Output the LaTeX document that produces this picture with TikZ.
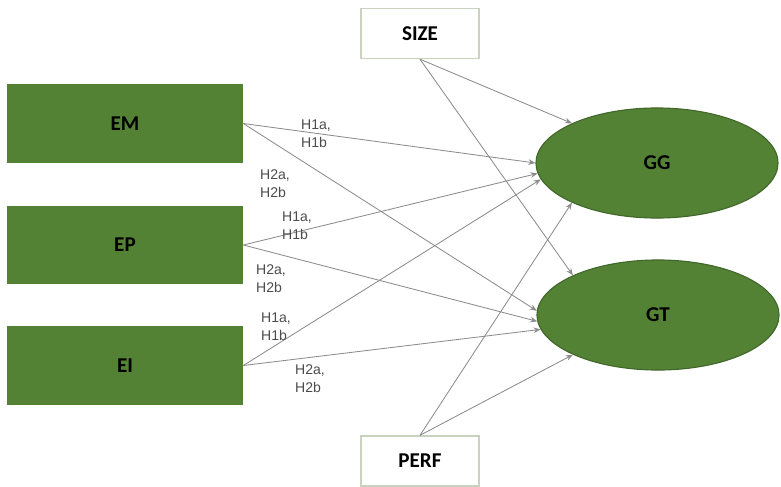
\documentclass[tikz,border=0pt]{standalone}
\usepackage{fontspec}
\setmainfont{Liberation Sans}
\newfontfamily\boxfont{Carlito}
\usetikzlibrary{arrows.meta,shapes.geometric}
\definecolor{leaf}{HTML}{548235}
\definecolor{leafdark}{HTML}{41672A}
\definecolor{frame}{HTML}{C8D2BE}
\definecolor{wire}{HTML}{8C8C8C}
\tikzstyle{edge} = [draw,wire,line width=0.6pt,-{Stealth[length=5pt,width=4pt]}]
\tikzstyle{weight} = [font=\fontsize{10}{12.8}\selectfont,text=black!70,align=left,inner sep=0pt]
\tikzstyle{block} = [rectangle,fill=leaf,minimum width=5.9cm,minimum height=1.95cm,inner sep=0pt,font=\boxfont\bfseries\fontsize{15}{18}\selectfont]
\tikzstyle{ctrl} = [rectangle,draw=frame,line width=1pt,fill=white,minimum width=2.95cm,minimum height=1.25cm,inner sep=0pt,font=\boxfont\bfseries\fontsize{15}{18}\selectfont]
\tikzstyle{outcome} = [ellipse,fill=leaf,draw=leafdark,line width=0.8pt,minimum width=6.05cm,minimum height=2.75cm,inner sep=0pt,font=\boxfont\bfseries\fontsize{15}{18}\selectfont]

\begin{document}
\begin{tikzpicture}[x=0.025cm,y=-0.025cm]
				\useasboundingbox (0,0) rectangle (781,486);
				
				\node[block] (EM) at (125,123.5) {EM};
				\node[block] (EP) at (125,245) {EP};
				\node[block] (EI) at (125,365.5) {EI};
				
				\node[ctrl] (SIZE) at (420,33.5) {SIZE};
				\node[ctrl] (PERF) at (420,461) {PERF};
				
				\node[outcome] (GG) at (657,163) {GG};
				\node[outcome] (GT) at (658,315) {GT};

				\foreach \source/ \dest in {EM.east/GG.180, EM.east/GT.178, EP.east/GG.185, EP.east/GT.183, EI.east/GG.188, EI.east/GT.187, SIZE.south/GG.155, SIZE.south/GT.155, PERF.north/GG.205, PERF.north/GT.205}
				\path[edge] (\source) -- (\dest);
				\foreach \name/ \x/ \y/ \h in {h1em/316/134/1, h2em/275/184/2, h1ep/297/226/1, h2ep/271/279/2, h1ei/276/327/1, h2ei/310/379/2}
				\node[weight] (\name) at (\x,\y) {H\h a,\\H\h b};
			\end{tikzpicture}
\end{document}
